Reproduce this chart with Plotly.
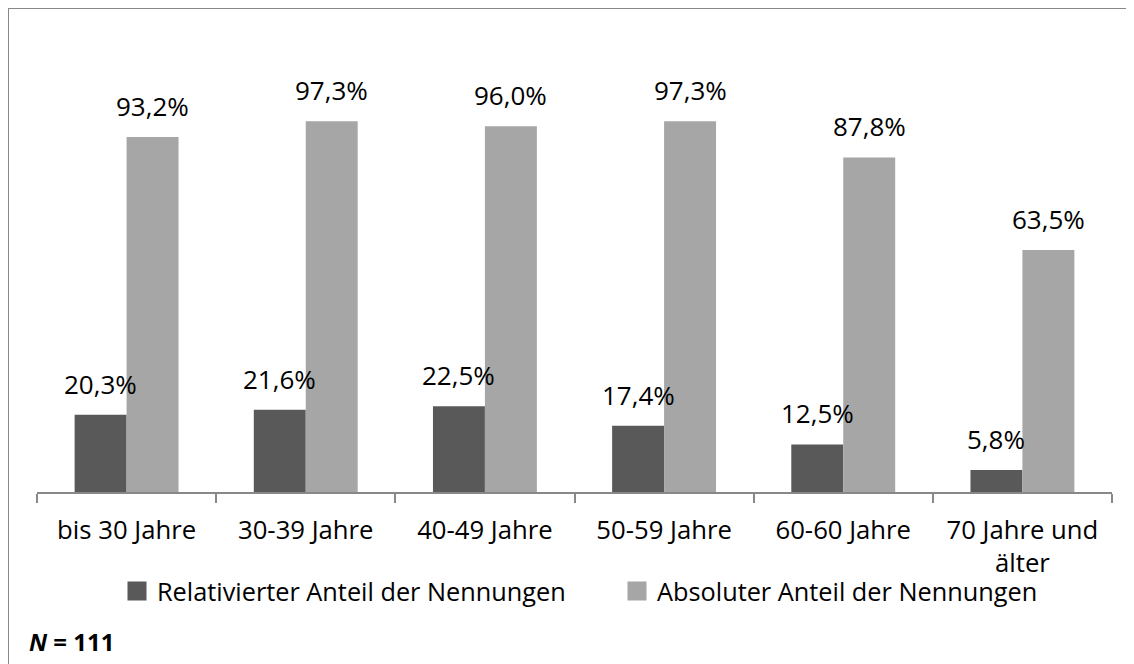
import plotly.graph_objects as go

categories = ["bis 30 Jahre", "30-39 Jahre", "40-49 Jahre", "50-59 Jahre", "60-60 Jahre", "70 Jahre und<br>älter"]
relativ = [20.3, 21.6, 22.5, 17.4, 12.5, 5.8]
absolut = [93.2, 97.3, 96.0, 97.3, 87.8, 63.5]
series_names = ["Relativierter Anteil der Nennungen", "Absoluter Anteil der Nennungen"]
colors = ["#595959", "#a6a6a6"]

FONT = "Open Sans"

# figure is placed at (8, 8) in the page by the default body margin
W, H = 1126, 656
ML, MR, MT, MB = 29, 22, 103, 172
PW, PH = W - ML - MR, H - MT - MB


def px_x(x):
    return (x - ML) / PW


def px_y(y):
    return (H - MB - y) / PH


fig = go.Figure()
for name, vals, col in zip(series_names, [relativ, absolut], colors):
    fig.add_trace(go.Bar(x=categories, y=vals, name=name, showlegend=False,
                         marker=dict(color=col, line=dict(width=0))))
# legend entries (larger square swatches), one legend box per series
for name, col, lg in zip(series_names, colors, ["legend", "legend2"]):
    fig.add_trace(go.Scatter(x=[None], y=[None], mode="markers", name=name, showlegend=True, legend=lg,
                             marker=dict(symbol="square", size=16, color=col, line=dict(color=col, width=3))))


def fmt(v):
    return f"{v:.1f}%".replace(".", ",")


for vals, shift in [(relativ, -26), (absolut, 26)]:
    for c, v in zip(categories, vals):
        fig.add_annotation(x=c, y=v, text=fmt(v), showarrow=False, xref="x", yref="y",
                           xshift=shift, yshift=11, yanchor="bottom",
                           font=dict(family=FONT, size=26, color="#000000"))

fig.add_annotation(x=px_x(19), y=px_y(633), xref="paper", yref="paper", xanchor="left", yanchor="middle",
                   text="<b><i>N</i> = 111</b>", showarrow=False,
                   font=dict(family=FONT, size=24, color="#000000"))

# outer frame
fig.add_shape(type="rect", xref="paper", yref="paper",
              x0=px_x(0), x1=px_x(1125),
              y0=px_y(H + 10), y1=px_y(0),
              line=dict(color="#888888", width=2), fillcolor="rgba(0,0,0,0)", layer="below")

legend_common = dict(orientation="h", y=px_y(583), xanchor="left", yanchor="middle",
                     font=dict(family=FONT, size=25.3), itemwidth=30, bgcolor="rgba(0,0,0,0)")

fig.update_layout(
    width=W, height=H,
    margin=dict(l=ML, r=MR, t=MT, b=MB),
    paper_bgcolor="white", plot_bgcolor="white",
    barmode="group", bargap=0.42, bargroupgap=0,
    font=dict(family=FONT, size=24, color="#000000"),
    showlegend=True,
    legend=dict(x=px_x(109), **legend_common),
    legend2=dict(x=px_x(609), **legend_common),
    xaxis=dict(showline=True, linecolor="#888888", linewidth=2, ticks="outside", ticklen=9,
               tickcolor="#888888", tickwidth=2, tickson="boundaries", showgrid=False,
               tickfont=dict(family=FONT, size=25.7), ticklabelstandoff=14, fixedrange=True),
    yaxis=dict(range=[0, 100], showticklabels=False, showgrid=False, zeroline=False,
               showline=False, ticks="", fixedrange=True),
)

fig.write_html("out.html")
